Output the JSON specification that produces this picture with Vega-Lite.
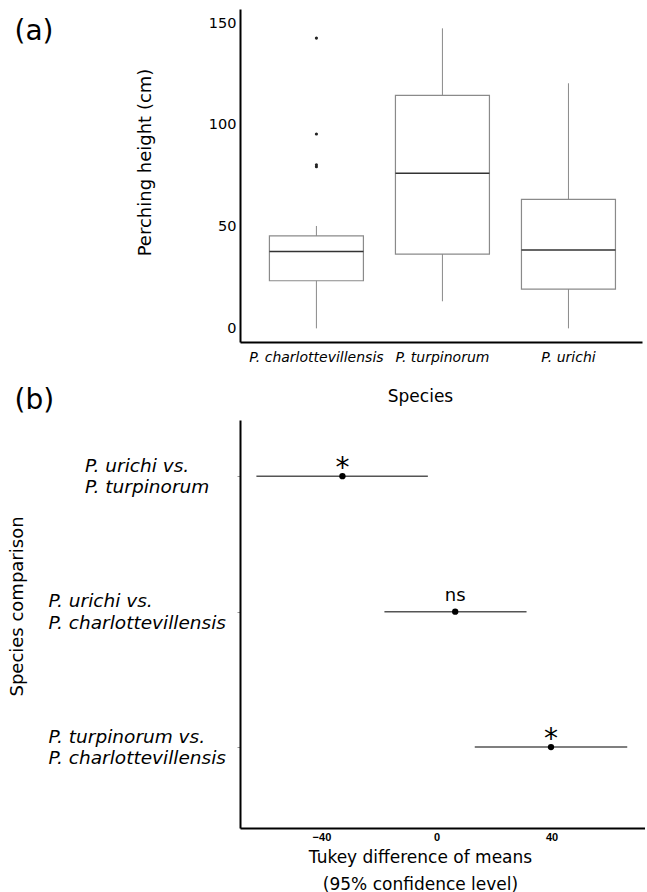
{
  "$schema": "https://vega.github.io/schema/vega-lite/v6.json",
  "padding": {"left": 7, "top": 9, "right": 3, "bottom": 0},
  "background": "white",
  "config": {
    "view": {"stroke": null},
    "font": "DejaVu Sans",
    "axis": {"grid": false, "domainColor": "black", "labelColor": "black", "titleColor": "black", "labelFlush": false, "labelOverlap": false}
  },
  "spacing": 78,
  "bounds": "flush",
  "vconcat": [
    {
      "width": 402,
      "height": 333,
      "title": {"text": "(a)", "anchor": "start", "frame": "group", "orient": "top", "offset": 0, "dx": -225.5, "dy": 58.8, "baseline": "alphabetic", "fontSize": 28, "fontWeight": "normal", "font": "DejaVu Sans", "color": "black"},
      "data": {"values": [
        {"species": "P. charlottevillensis", "lower": 0, "q1": 23.4, "median": 37.8, "q3": 45.4, "upper": 50.3},
        {"species": "P. turpinorum", "lower": 13.3, "q1": 36.5, "median": 76.2, "q3": 114.5, "upper": 147.4},
        {"species": "P. urichi", "lower": 0, "q1": 19.3, "median": 38.5, "q3": 63.4, "upper": 120.4}
      ]},
      "encoding": {
        "x": {
          "field": "species", "type": "nominal", "sort": null,
          "scale": {"type": "band", "paddingInner": 0, "paddingOuter": 0.095, "align": 0.56},
          "axis": {"title": "Species", "labelFontStyle": "italic", "labelFontSize": 14, "labelAngle": 0, "ticks": false, "tickSize": 0, "labelPadding": 8, "domainWidth": 2, "titleFontSize": 17, "titleFontWeight": "normal", "titleX": 180, "titleY": 54, "titleBaseline": "middle", "titleAlign": "center"}
        }
      },
      "layer": [
        {
          "mark": {"type": "rule", "color": "#8a8a8a", "strokeWidth": 1},
          "encoding": {
            "y": {"field": "lower", "type": "quantitative", "scale": {"domain": [-6.7, 156.9], "nice": false, "zero": false},
              "axis": {"title": "Perching height (cm)", "values": [0, 50, 100, 150], "ticks": false, "tickSize": 0, "labelPadding": 4, "labelFontSize": 14.5, "domainWidth": 2, "titleFontSize": 18, "titleFontWeight": "normal", "titleX": -95, "titleY": 153, "titleAngle": -90, "titleBaseline": "middle", "titleAlign": "center"}},
            "y2": {"field": "upper"}
          }
        },
        {
          "mark": {"type": "bar", "fill": "white", "stroke": "#8a8a8a", "strokeWidth": 1.2, "size": 94},
          "encoding": {"y": {"field": "q1", "type": "quantitative"}, "y2": {"field": "q3"}}
        },
        {
          "mark": {"type": "tick", "color": "#333333", "thickness": 1.5, "size": 94, "opacity": 1},
          "encoding": {"y": {"field": "median", "type": "quantitative"}}
        },
        {
          "data": {"values": [
            {"species": "P. charlottevillensis", "height": 142.6},
            {"species": "P. charlottevillensis", "height": 95.5},
            {"species": "P. charlottevillensis", "height": 80.4},
            {"species": "P. charlottevillensis", "height": 79.4}
          ]},
          "mark": {"type": "point", "filled": true, "color": "#222222", "size": 10, "opacity": 1},
          "encoding": {"y": {"field": "height", "type": "quantitative"}}
        }
      ]
    },
    {
      "width": 404.5,
      "height": 408,
      "title": {"text": "(b)", "anchor": "start", "frame": "group", "orient": "top", "offset": 0, "dx": -225.5, "dy": 17, "baseline": "alphabetic", "fontSize": 28, "fontWeight": "normal", "font": "DejaVu Sans", "color": "black"},
      "data": {"values": [
        {"comparison": "P. urichi vs. P. turpinorum", "diff": -32.7, "lwr": -62.6, "upr": -3.0, "sig": "*"},
        {"comparison": "P. urichi vs. P. charlottevillensis", "diff": 6.5, "lwr": -18.1, "upr": 31.3, "sig": "ns"},
        {"comparison": "P. turpinorum vs. P. charlottevillensis", "diff": 39.8, "lwr": 13.3, "upr": 66.3, "sig": "*"}
      ]},
      "encoding": {
        "y": {
          "field": "comparison", "type": "nominal", "sort": null,
          "scale": {"type": "point", "padding": 0.506, "align": 0.41},
          "axis": {
            "title": "Species comparison",
            "labelExpr": "[split(datum.label, ' vs. ')[0] + ' vs.', split(datum.label, ' vs. ')[1]]",
            "labelFontStyle": "italic", "labelFontSize": 18.5, "labelLineHeight": 21.5, "labelAlign": "left", "labelBaseline": "middle", "labelLimit": 400, "labelOffset": -11,
            "labelPadding": {"condition": {"test": "datum.value == 'P. urichi vs. P. turpinorum'", "value": 152.5}, "value": 189},
            "tickSize": 3, "tickColor": "#999999", "tickWidth": 1, "domainWidth": 2,
            "titleFontSize": 18, "titleFontWeight": "normal", "titleX": -223, "titleY": 186, "titleAngle": -90, "titleBaseline": "middle", "titleAlign": "center"
          }
        }
      },
      "layer": [
        {
          "mark": {"type": "rule", "color": "#555555", "strokeWidth": 1.5},
          "encoding": {
            "x": {"field": "lwr", "type": "quantitative", "scale": {"domain": [-68.3, 72.3], "nice": false, "zero": false},
              "axis": {"title": ["Tukey difference of means", "(95% confidence level)"], "values": [-40, 0, 40], "ticks": false, "tickSize": 0, "labelFont": "Liberation Sans Narrow, Liberation Sans", "labelFontWeight": "bold", "labelFontSize": 11, "labelPadding": 3, "domainWidth": 2, "titleFontSize": 17, "titleFontWeight": "normal", "titleLineHeight": 27, "titleX": 180, "titleY": 29, "titleBaseline": "middle", "titleAlign": "center"}},
            "x2": {"field": "upr"}
          }
        },
        {
          "mark": {"type": "point", "filled": true, "color": "black", "size": 40, "opacity": 1},
          "encoding": {"x": {"field": "diff", "type": "quantitative"}}
        },
        {
          "transform": [{"filter": "datum.sig == '*'"}],
          "mark": {"type": "text", "fontSize": 28, "baseline": "alphabetic", "dy": 1, "color": "black"},
          "encoding": {"x": {"field": "diff", "type": "quantitative"}, "text": {"field": "sig"}}
        },
        {
          "transform": [{"filter": "datum.sig == 'ns'"}],
          "mark": {"type": "text", "fontSize": 18, "baseline": "alphabetic", "dy": -11, "color": "black"},
          "encoding": {"x": {"field": "diff", "type": "quantitative"}, "text": {"field": "sig"}}
        }
      ]
    }
  ]
}
